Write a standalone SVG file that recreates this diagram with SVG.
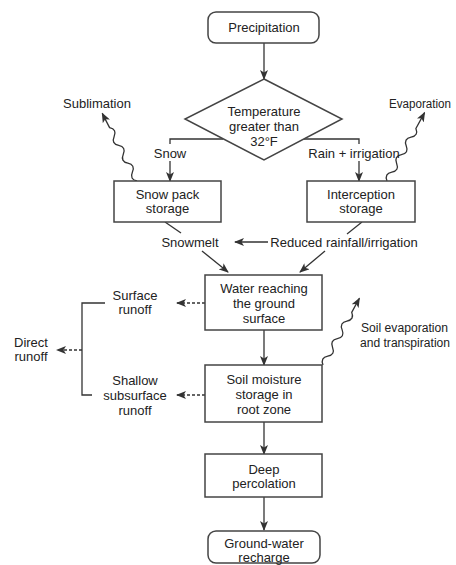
<svg xmlns="http://www.w3.org/2000/svg" width="456" height="565" viewBox="0 0 456 565">
<defs>
<marker id="ah" markerWidth="10" markerHeight="8" refX="9" refY="4" orient="auto" markerUnits="userSpaceOnUse">
<path d="M0,0 L10,4 L0,8 L2.5,4 z" fill="#333"/>
</marker>
</defs>
<style>
text{font-family:"Liberation Sans",Arial,sans-serif;font-size:13px;fill:#222;text-anchor:middle}
.box{fill:#fff;stroke:#444;stroke-width:1.5}
.ln{fill:none;stroke:#333;stroke-width:1.3}
.ar{fill:none;stroke:#333;stroke-width:1.3;marker-end:url(#ah)}
.da{fill:none;stroke:#333;stroke-width:1.3;stroke-dasharray:3,2;marker-end:url(#ah)}
.wv{fill:none;stroke:#333;stroke-width:1.3;marker-end:url(#ah)}
.st{text-anchor:start}
.sm{font-size:12px}
</style>
<rect width="456" height="565" fill="#fff"/>
<g id="connectors">
<path class="ar" d="M264,43 V79"/>
<path class="ln" d="M223,139 H170 V144"/>
<path class="ar" d="M170,161 V181"/>
<path class="ln" d="M304,139 H359 V144"/>
<path class="ar" d="M359,161 V181"/>
<path class="ln" d="M165,222 L181,233"/>
<path class="ar" d="M202,251 L228,272"/>
<path class="ln" d="M362,222 L347,234"/>
<path class="ar" d="M325,251 L300,272"/>
<path class="ar" d="M268,242 H235"/>
<path class="da" d="M205,303 H177"/>
<path class="da" d="M205,395 H177"/>
<path class="ln" d="M105,303 H82 V395 H92"/>
<path class="da" d="M82,350 H57"/>
<path class="ar" d="M264,330 V365"/>
<path class="ar" d="M264,422 V454"/>
<path class="ar" d="M264,497 V530"/>
<path class="wv" transform="translate(137,181) rotate(-117.2)" d="M0,0 q5,-6 10,0 t10,0 t10,0 t10,0 t10,0 t10,0 l16,0"/>
<path class="wv" transform="translate(387,181) rotate(-61.2)" d="M0,0 q5,-6 10,0 t10,0 t10,0 t10,0 t10,0 t10,0 l18,0"/>
<path class="wv" transform="translate(323,365) rotate(-61.4)" d="M0,0 q5,-6 10,0 t10,0 t10,0 t10,0 t10,0 t10,0 l16,0"/>
</g>
<g id="precipitation">
<rect class="box" x="208" y="12" width="111" height="31" rx="8"/>
<text x="264" y="32">Precipitation</text>
</g>
<g id="temperature">
<path class="box" d="M264,79 L342,119 L264,160 L185,119 Z"/>
<text x="264" y="115.5">Temperature</text>
<text x="264" y="130.5">greater than</text>
<text x="264" y="145.5">32°F</text>
</g>
<g id="snow-label"><text x="170" y="157.5">Snow</text></g>
<g id="rain-label"><text x="354" y="157.5">Rain + irrigation</text></g>
<g id="snowpack">
<rect class="box" x="114" y="181" width="107" height="41"/>
<text x="167.5" y="199">Snow pack</text>
<text x="167.5" y="212.5">storage</text>
</g>
<g id="interception">
<rect class="box" x="307" y="181" width="108" height="41"/>
<text x="361" y="199">Interception</text>
<text x="361" y="212.5">storage</text>
</g>
<g id="sublimation"><text x="97" y="107.5">Sublimation</text></g>
<g id="evaporation"><text class="st sm" x="389" y="107.5" textLength="62" lengthAdjust="spacingAndGlyphs">Evaporation</text></g>
<g id="snowmelt"><text x="190" y="246.5">Snowmelt</text></g>
<g id="reduced"><text x="344" y="246.5">Reduced rainfall/irrigation</text></g>
<g id="water">
<rect class="box" x="205" y="275" width="117" height="55"/>
<text x="264" y="292.5">Water reaching</text>
<text x="264" y="307.5">the ground</text>
<text x="264" y="322.5">surface</text>
</g>
<g id="surface-runoff">
<text x="135" y="299.5">Surface</text>
<text x="135" y="314">runoff</text>
</g>
<g id="direct-runoff">
<text x="31" y="346.5">Direct</text>
<text x="31" y="360.5">runoff</text>
</g>
<g id="soil-evap">
<text class="st sm" x="361" y="331.5" textLength="87" lengthAdjust="spacingAndGlyphs">Soil evaporation</text>
<text class="st sm" x="360" y="346.5" textLength="90" lengthAdjust="spacingAndGlyphs">and transpiration</text>
</g>
<g id="soil">
<rect class="box" x="205" y="365" width="117" height="57"/>
<text x="264" y="383.5">Soil moisture</text>
<text x="264" y="398.5">storage in</text>
<text x="264" y="413.5">root zone</text>
</g>
<g id="shallow">
<text x="135" y="384.5">Shallow</text>
<text x="135" y="399.5">subsurface</text>
<text x="135" y="414.5">runoff</text>
</g>
<g id="deep">
<rect class="box" x="205" y="454" width="117" height="43"/>
<text x="264" y="473.5">Deep</text>
<text x="264" y="487.5">percolation</text>
</g>
<g id="groundwater">
<rect class="box" x="208" y="531" width="112" height="32" rx="8"/>
<text x="264" y="547.5">Ground-water</text>
<text x="264" y="561.5">recharge</text>
</g>
</svg>
